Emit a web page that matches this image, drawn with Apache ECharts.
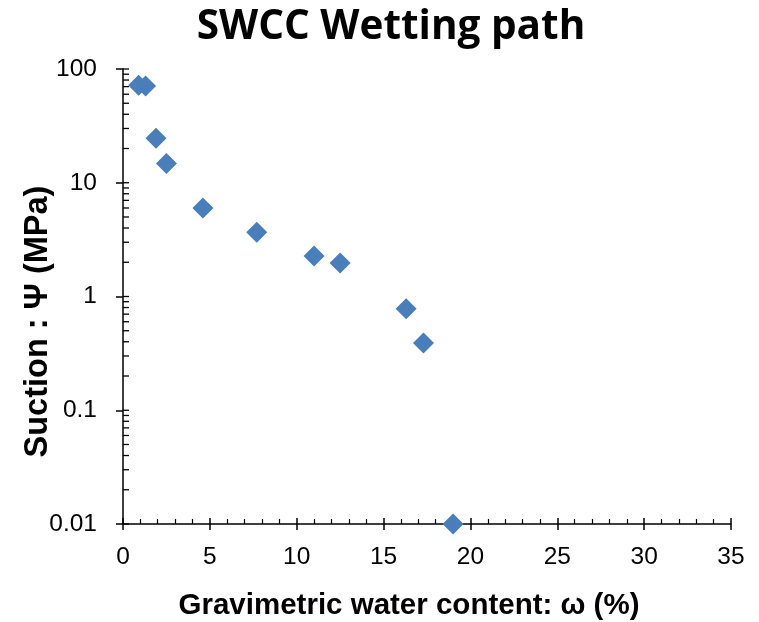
<!DOCTYPE html>
<html>
<head>
<meta charset="utf-8">
<script src="https://cdn.jsdelivr.net/npm/echarts@6/dist/echarts.min.js"></script>
<style>
html, body { margin: 0; padding: 0; background: #fff; }
#chart { width: 759px; height: 622px; }
</style>
</head>
<body>
<div id="chart"></div>
<script>
// water content (%) and suction (MPa)
var waterContent = [0.9, 1.3, 1.9, 2.5, 4.6, 7.7, 11.0, 12.5, 16.3, 17.3, 19.0];
var suction = [72, 71, 24.6, 14.8, 6.0, 3.67, 2.27, 1.97, 0.78, 0.39, 0.01];
var yTicks = [0.01, 0.1, 1, 10, 100];

var points = [];
for (var i = 0; i < waterContent.length; i++) {
    points.push([waterContent[i], suction[i]]);
}

// inside tick marks for the log axis (1..9 of each decade)
var logTicks = [];
for (var d = 0; d < yTicks.length - 1; d++) {
    for (var k = 1; k <= 9; k++) {
        logTicks.push([0, yTicks[d] * k]);
    }
}
logTicks.push([0, 100]);

var chart = echarts.init(document.getElementById('chart'));
var font = '"Liberation Sans", Arial, sans-serif';

var option = {
    backgroundColor: '#fff',
    animation: false,
    title: {
        text: 'SWCC Wetting path',
        left: 386,
        textAlign: 'center',
        top: 2,
        textStyle: {
            fontFamily: '"Open Sans", "Noto Sans", sans-serif',
            fontWeight: 'bold',
            fontSize: 40.5,
            color: '#000'
        }
    },
    grid: { left: 123, right: 28, top: 69, bottom: 98, outerBoundsMode: 'none' },
    xAxis: [{
        type: 'value',
        min: 0, max: 35, interval: 5,
        position: 'bottom',
        name: 'Gravimetric water content: ω (%)',
        nameLocation: 'middle',
        nameGap: 67,
        nameMoveOverlap: false,
        nameTextStyle: {
            fontFamily: font, fontWeight: 'bold', fontSize: 29.5, color: '#000',
            padding: [0, 36, 0, 0]
        },
        axisLine: { lineStyle: { color: '#000', width: 1.5 } },
        axisTick: { length: 6, lineStyle: { color: '#000', width: 1.5 } },
        axisLabel: { fontFamily: font, fontSize: 24.5, color: '#000', margin: 21 },
        splitLine: { show: false }
    }, {
        type: 'value',
        min: 0, max: 35, interval: 5,
        position: 'bottom',
        axisLine: { show: false },
        axisTick: { inside: true, length: 6, lineStyle: { color: '#000', width: 1.5 } },
        minorTick: { show: true, splitNumber: 5, length: 5, lineStyle: { color: '#000', width: 1.2 } },
        axisLabel: { show: false },
        splitLine: { show: false }
    }],
    yAxis: {
        type: 'log',
        min: 0.01, max: 100, logBase: 10,
        name: 'Suction : Ψ (MPa)',
        nameLocation: 'middle',
        nameGap: 68,
        nameMoveOverlap: false,
        nameTextStyle: {
            fontFamily: font, fontWeight: 'bold', fontSize: 32.5, color: '#000',
            padding: [0, 50, 0, 0]
        },
        axisLine: { show: true, lineStyle: { color: '#000', width: 1.5 } },
        axisTick: { show: true, length: 7, lineStyle: { color: '#000', width: 1.5 } },
        axisLabel: {
            fontFamily: font, fontSize: 24.5, color: '#000', margin: 26,
            formatter: function (v) { return String(+v.toPrecision(3)); }
        },
        splitLine: { show: false }
    },
    series: [{
        type: 'custom',
        silent: true,
        clip: false,
        z: 1,
        data: logTicks,
        renderItem: function (params, api) {
            var p = api.coord([api.value(0), api.value(1)]);
            return {
                type: 'line',
                shape: { x1: p[0], y1: p[1], x2: p[0] + 6, y2: p[1] },
                style: { stroke: '#000', lineWidth: 1.3 }
            };
        }
    }, {
        type: 'scatter',
        symbol: 'diamond',
        symbolSize: 21,
        clip: false,
        z: 3,
        itemStyle: { color: '#4A7EBB', opacity: 1 },
        data: points
    }]
};
chart.setOption(option);
</script>
</body>
</html>
